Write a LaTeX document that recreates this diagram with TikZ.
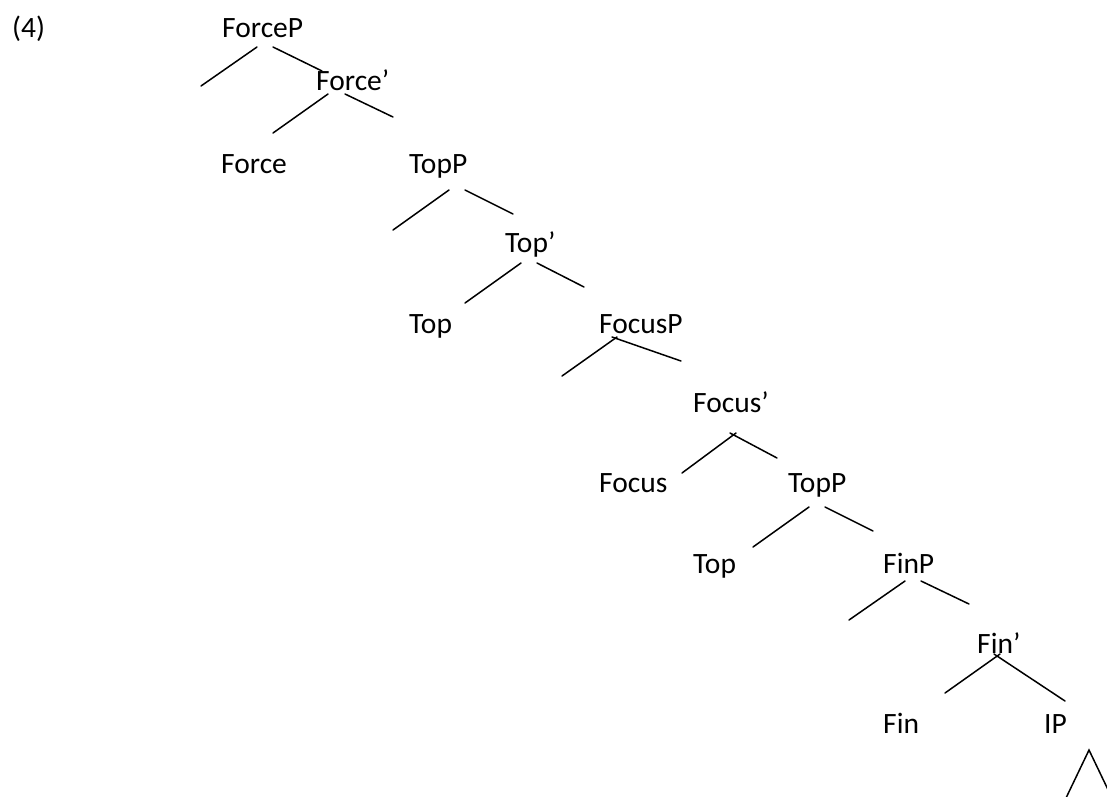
\documentclass[tikz,border=0pt]{standalone}
\usepackage{fontspec}
\setmainfont{Carlito}
\begin{document}
\begin{tikzpicture}[x=1pt,y=-1pt,
  lbl/.style={anchor=base west,inner sep=0pt,font=\fontsize{29.5}{34}\selectfont},
  branch/.style={line width=1.5pt,line cap=round}]
\useasboundingbox (0,0) rectangle (1107,796);

% labels (left edge, baseline)
\node[lbl] (ex)      at (12,37)   {(4)};
\node[lbl] (forceP)  at (222,37)  {ForceP};
\node[lbl] (forceB)  at (316,90)  {Force’};
\node[lbl] (force)   at (221,173) {Force};
\node[lbl] (topP1)   at (409,173) {TopP};
\node[lbl] (topB1)   at (505,252) {Top’};
\node[lbl] (top1)    at (409,333) {Top};
\node[lbl] (focusP)  at (599,333) {FocusP};
\node[lbl] (focusB)  at (693,412) {Focus’};
\node[lbl] (focus)   at (599,492) {Focus};
\node[lbl] (topP2)   at (788,492) {TopP};
\node[lbl] (top2)    at (693,573) {Top};
\node[lbl] (finP)    at (883,573) {FinP};
\node[lbl] (finB)    at (977,653) {Fin’};
\node[lbl] (fin)     at (883,733) {Fin};
\node[lbl] (ip)      at (1044,733) {IP};

% branch end points
\coordinate (a1) at (257,47);   \coordinate (a2) at (201,86);
\coordinate (b1) at (273,47);   \coordinate (b2) at (322,71);
\coordinate (c1) at (328,94);   \coordinate (c2) at (273,133);
\coordinate (d1) at (345,94);   \coordinate (d2) at (393,117);
\coordinate (e1) at (449,190);  \coordinate (e2) at (393,230);
\coordinate (f1) at (465,190);  \coordinate (f2) at (513,214);
\coordinate (g1) at (521,263);  \coordinate (g2) at (465,303);
\coordinate (h1) at (537,263);  \coordinate (h2) at (584,287);
\coordinate (i1) at (617,337);  \coordinate (i2) at (562,376);
\coordinate (j1) at (612,337);  \coordinate (j2) at (681,361);
\coordinate (k1) at (736,433);  \coordinate (k2) at (682,473);
\coordinate (l1) at (730,433);  \coordinate (l2) at (777,458);
\coordinate (m1) at (809,507);  \coordinate (m2) at (753,547);
\coordinate (n1) at (825,507);  \coordinate (n2) at (873,531);
\coordinate (o1) at (905,581);  \coordinate (o2) at (849,620);
\coordinate (p1) at (921,581);  \coordinate (p2) at (969,604);
\coordinate (q1) at (1000,654); \coordinate (q2) at (945,693);
\coordinate (r1) at (994,654);  \coordinate (r2) at (1065,701);
\coordinate (tl) at (1066,798); \coordinate (tt) at (1089,750);
\coordinate (tr) at (1112,798);

\foreach \s in {a,b,c,d,e,f,g,h,i,j,k,l,m,n,o,p,q,r}
  \draw[branch] (\s1) -- (\s2);

% triangle under IP
\draw[branch,line join=miter] (tl) -- (tt) -- (tr);
\end{tikzpicture}
\end{document}
